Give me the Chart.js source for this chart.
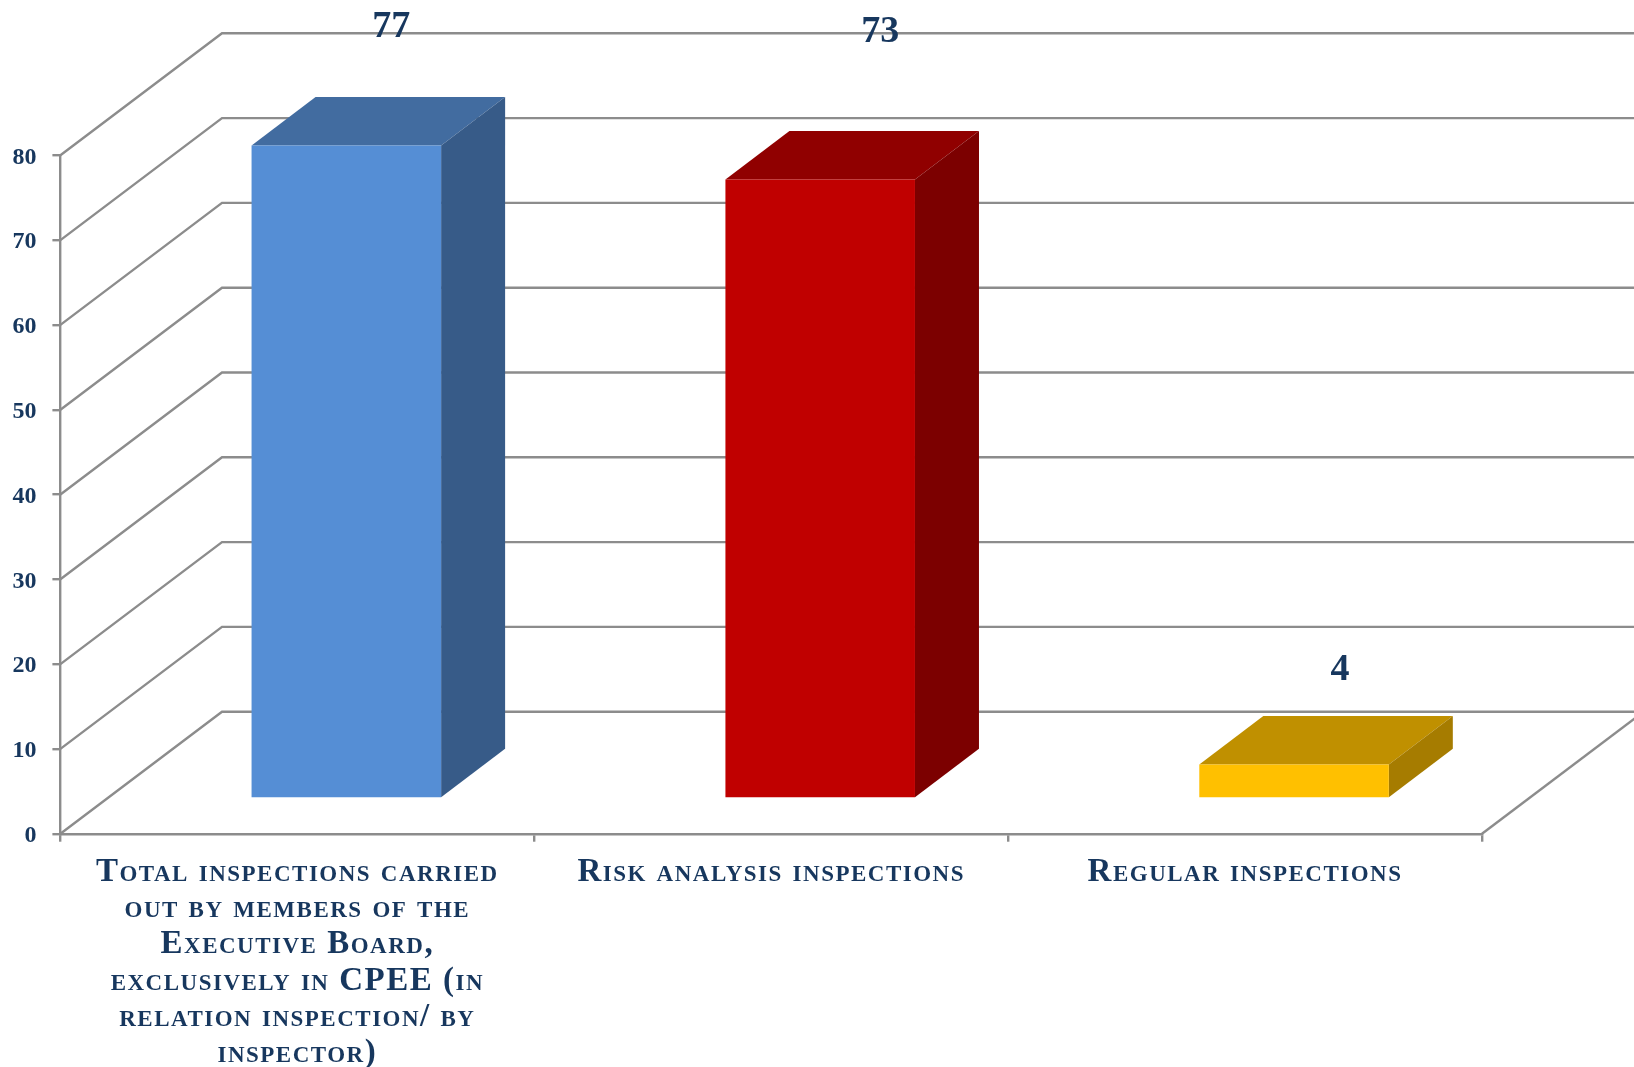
<!DOCTYPE html>
<html>
<head>
<meta charset="utf-8">
<title>Inspections</title>
<script src="https://cdn.jsdelivr.net/npm/chart.js@4/dist/chart.umd.min.js"></script>
<style>
  html, body { margin: 0; padding: 0; background: #fff; }
  canvas { display: block; }
</style>
</head>
<body>
<canvas id="inspections-chart" width="1634" height="1067"></canvas>
<script>
const categories = [
    ["Total inspections carried", "out by members of the", "Executive Board,", "exclusively in CPEE (in", "relation inspection/ by", "inspector)"],
    ["Risk analysis inspections"],
    ["Regular inspections"]
];
const inspections = [77, 73, 4];
const axisMin = 0;
const axisMax = 80;
const axisStep = 10;

const frontColors = ["#558ed5", "#c00000", "#ffc000"];
const topColors = ["#426ca0", "#900000", "#c09000"];
const sideColors = ["#375b88", "#7c0000", "#a67c00"];

const textColor = "#17375e";
const lineColor = "#8c8c8c";

// 3D look, all in px
const wallDepth = { x: 161.6, y: 122 };
const barShift = { x: 49, y: 35.2 };  // bars stand inside the floor, not on the front edge
const barDepth = { x: 64, y: 48.5 };
// the value labels were moved by hand in the original, offset from centre of bar top
const labelShift = [{ x: 45, y: 118.6 }, { x: 60, y: 147.6 }, { x: 46, y: 94.6 }];

// walls and floor lines behind the bars
const wallsPlugin = {
    id: "walls",
    beforeDatasetsDraw(chart) {
        const ctx = chart.ctx;
        const area = chart.chartArea;
        const yScale = chart.scales.y;
        ctx.save();
        ctx.strokeStyle = lineColor;
        ctx.lineWidth = 2.4;
        yScale.ticks.forEach(tick => {
            const y = yScale.getPixelForValue(tick.value);
            ctx.beginPath();
            ctx.moveTo(area.left, y);
            ctx.lineTo(area.left + wallDepth.x, y - wallDepth.y);
            ctx.lineTo(chart.width, y - wallDepth.y);
            ctx.stroke();
        });
        ctx.beginPath();
        ctx.moveTo(area.right, area.bottom);
        ctx.lineTo(area.right + wallDepth.x, area.bottom - wallDepth.y);
        ctx.stroke();
        ctx.restore();
    }
};

// chart.js has no letter spacing option, so wrap the x labels draw
const spacingPlugin = {
    id: "spacing",
    beforeDraw(chart) {
        const xScale = chart.scales.x;
        if (xScale.spaced) return;
        const drawLabels = xScale.drawLabels;
        xScale.drawLabels = function (area) {
            chart.ctx.save();
            chart.ctx.letterSpacing = "1.5px";
            drawLabels.call(this, area);
            chart.ctx.restore();
        };
        xScale.spaced = true;
    }
};

// front face is the normal bar, shifted back. Top and side faces are added from the bar element
const boxPlugin = {
    id: "box",
    beforeDatasetDraw(chart, args) {
        const ctx = chart.ctx;
        ctx.save();
        ctx.translate(barShift.x, -barShift.y);
        args.meta.data.forEach((bar, i) => {
            const left = bar.x - bar.width / 2;
            const right = bar.x + bar.width / 2;
            ctx.fillStyle = topColors[i];
            ctx.beginPath();
            ctx.moveTo(left, bar.y);
            ctx.lineTo(left + barDepth.x, bar.y - barDepth.y);
            ctx.lineTo(right + barDepth.x, bar.y - barDepth.y);
            ctx.lineTo(right, bar.y);
            ctx.closePath();
            ctx.fill();
            ctx.fillStyle = sideColors[i];
            ctx.beginPath();
            ctx.moveTo(right, bar.y);
            ctx.lineTo(right + barDepth.x, bar.y - barDepth.y);
            ctx.lineTo(right + barDepth.x, bar.base - barDepth.y);
            ctx.lineTo(right, bar.base);
            ctx.closePath();
            ctx.fill();
        });
    },
    afterDatasetDraw(chart) {
        chart.ctx.restore();
    },
    afterDatasetsDraw(chart) {
        const ctx = chart.ctx;
        const bars = chart.getDatasetMeta(0).data;
        ctx.save();
        ctx.fillStyle = textColor;
        ctx.font = "bold 38px 'Liberation Serif'";
        ctx.textAlign = "center";
        ctx.textBaseline = "middle";
        bars.forEach((bar, i) => {
            ctx.fillText(inspections[i], bar.x + barShift.x + labelShift[i].x, bar.y - barShift.y - labelShift[i].y);
        });
        ctx.restore();
    }
};

const data = {
    labels: categories,
    datasets: [{
        label: "Inspections",
        data: inspections,
        backgroundColor: frontColors,
        borderWidth: 0,
        barPercentage: 1,
        categoryPercentage: 0.4,
        clip: false
    }]
};

const config = {
    type: "bar",
    data: data,
    options: {
        responsive: false,
        animation: false,
        layout: {
            autoPadding: false,
            padding: { left: 0, right: 152, top: 155.3, bottom: 0 }
        },
        plugins: {
            legend: { display: false },
            title: { display: false },
            tooltip: { enabled: false }
        },
        scales: {
            x: {
                afterFit(scale) { scale.height = 233.3; },
                border: { color: lineColor, width: 2.4 },
                grid: { drawOnChartArea: false, color: lineColor, lineWidth: 2.4, tickLength: 8 },
                ticks: {
                    autoSkip: false,
                    maxRotation: 0,
                    padding: 13,
                    color: textColor,
                    // small-caps goes through weight, the font string is just joined
                    font: { family: "'Liberation Serif'", size: 33, weight: "small-caps bold", lineHeight: 1.094 }
                }
            },
            y: {
                min: axisMin,
                max: axisMax,
                afterFit(scale) { scale.width = 60.4; },
                border: { color: lineColor, width: 2.4 },
                grid: { drawOnChartArea: false, color: lineColor, lineWidth: 2.4, tickLength: 8 },
                ticks: {
                    stepSize: axisStep,
                    padding: 16,
                    labelOffset: 2,
                    color: textColor,
                    font: { family: "'Liberation Serif'", size: 24, weight: "bold" }
                }
            }
        }
    },
    plugins: [wallsPlugin, spacingPlugin, boxPlugin]
};

const myChart = new Chart(document.getElementById("inspections-chart"), config);
</script>
</body>
</html>
